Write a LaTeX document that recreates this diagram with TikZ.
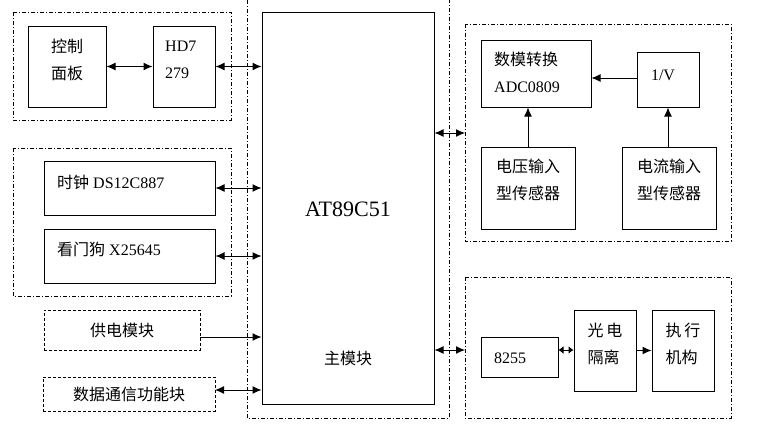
\documentclass[tikz,border=0pt]{standalone}
\usepackage{fontspec}
\setmainfont{Liberation Serif}
\newfontfamily\cjk{Noto Sans CJK SC}
\usetikzlibrary{arrows.meta}
\begin{document}
\begin{tikzpicture}[x=1pt,y=-1pt,
  box/.style={draw,line width=1pt},
  dd/.style={draw,line width=0.8pt,dash pattern=on 4pt off 2pt on 1pt off 2pt},
  dsh/.style={draw,line width=0.8pt,dash pattern=on 3pt off 2pt},
  lab/.style={font=\fontsize{16}{27}\selectfont,align=left,inner sep=0pt},
  ar/.style={line width=1pt,-{Latex[length=9pt,width=8pt]}},
  dar/.style={line width=1pt,{Latex[length=9pt,width=8pt]}-{Latex[length=9pt,width=8pt]}}]
\useasboundingbox (0,0) rectangle (779,432);
% dash-dot outlines
\draw[dd] (247,0) -- (247,418) -- (449,418) -- (449,0);
\draw[dd] (13,12) rectangle (231,120);
\draw[dd] (13,148) rectangle (231,296);
\draw[dd] (465,24) rectangle (731,241);
\draw[dd] (465,277) rectangle (731,418);
% main
\node[box,minimum width=172pt,minimum height=392pt] (mcu) at (348,208) {};
\node[font=\fontsize{22}{26}\selectfont] (mcut) at (348,209) {AT89C51};
\node[lab] (mm) at (348,358) {\cjk 主模块};
% group 1
\node[box,minimum width=78pt,minimum height=81pt] (ctl) at (67,66.5) {};
\node[lab] (ctlt) at (67,60) {\cjk 控制\\\cjk 面板};
\node[box,minimum width=62pt,minimum height=81pt] (hd) at (184,66.5) {};
\node[lab,anchor=west] (hdt) at (165,60) {HD7\\279};
\draw[dar] (ctl.east) -- (hd.east -| hd.west);
\draw[dar] (hd.east) -- (mcu.west |- hd.east);
% group 2
\node[box,minimum width=171pt,minimum height=54pt] (clk) at (129.5,188) {};
\node[lab,anchor=west] (clkt) at (57,182) {{\cjk 时钟} DS12C887};
\node[box,minimum width=171pt,minimum height=54pt] (wd) at (129.5,256) {};
\node[lab,anchor=west] (wdt) at (57,249) {{\cjk 看门狗} X25645};
\draw[dar] (clk.east) -- (mcu.west |- clk.east);
\draw[dar] (wd.east) -- (mcu.west |- wd.east);
% power, comm
\node[dsh,minimum width=156pt,minimum height=40pt,lab] (pw) at (122,330) {\cjk 供电模块};
\coordinate (pwo) at (200,337);
\draw[ar] (pwo) -- (mcu.west |- pwo);
\node[dsh,minimum width=172pt,minimum height=34pt,lab] (com) at (129,394) {\cjk 数据通信功能块};
\coordinate (como) at (215,390);
\draw[dar] (como) -- (mcu.west |- como);
% right group 1
\node[box,minimum width=110pt,minimum height=67pt] (adc) at (536,73.5) {};
\node[lab,anchor=west] (adct) at (494,72) {\cjk 数模转换\\ADC0809};
\node[box,minimum width=62pt,minimum height=55pt] (iv) at (668,79.5) {};
\node[lab] (ivt) at (663,75) {1/V};
\node[box,minimum width=94pt,minimum height=82pt] (vs) at (528,188) {};
\node[lab] (vst) at (528,180) {\cjk 电压输入\\\cjk 型传感器};
\node[box,minimum width=94pt,minimum height=82pt] (cs) at (669,188) {};
\node[lab] (cst) at (669,180) {\cjk 电流输入\\\cjk 型传感器};
\draw[ar] (iv.west |- 0,78) -- (adc.east |- 0,78);
\draw[ar] (vs.north) -- (vs.north |- adc.south);
\draw[ar] (cs.north -| iv.south) -- (iv.south);
\coordinate (g1) at (465,133);
\draw[dar] (mcu.east |- g1) -- (g1);
% right group 2
\node[box,minimum width=77pt,minimum height=40pt] (pp) at (519.5,357) {};
\node[lab,anchor=west] (ppt) at (494,358) {8255};
\node[box,minimum width=62pt,minimum height=81pt] (opt) at (605,350.5) {};
\node[lab] (optt) at (605,344) {{\cjk 光}\,{\cjk 电}\\\cjk 隔离};
\node[box,minimum width=62pt,minimum height=81pt] (act) at (683,350.5) {};
\node[lab] (actt) at (683,344) {{\cjk 执}\,{\cjk 行}\\\cjk 机构};
\draw[line width=1pt,{Latex[length=5pt,width=8pt]}-{Latex[length=5pt,width=8pt]}] (pp.east |- 0,350) -- (opt.west |- 0,350);
\draw[ar] (opt.east) -- (act.west);
\coordinate (g2) at (465,350);
\draw[dar] (mcu.east |- g2) -- (g2);
\end{tikzpicture}
\end{document}
